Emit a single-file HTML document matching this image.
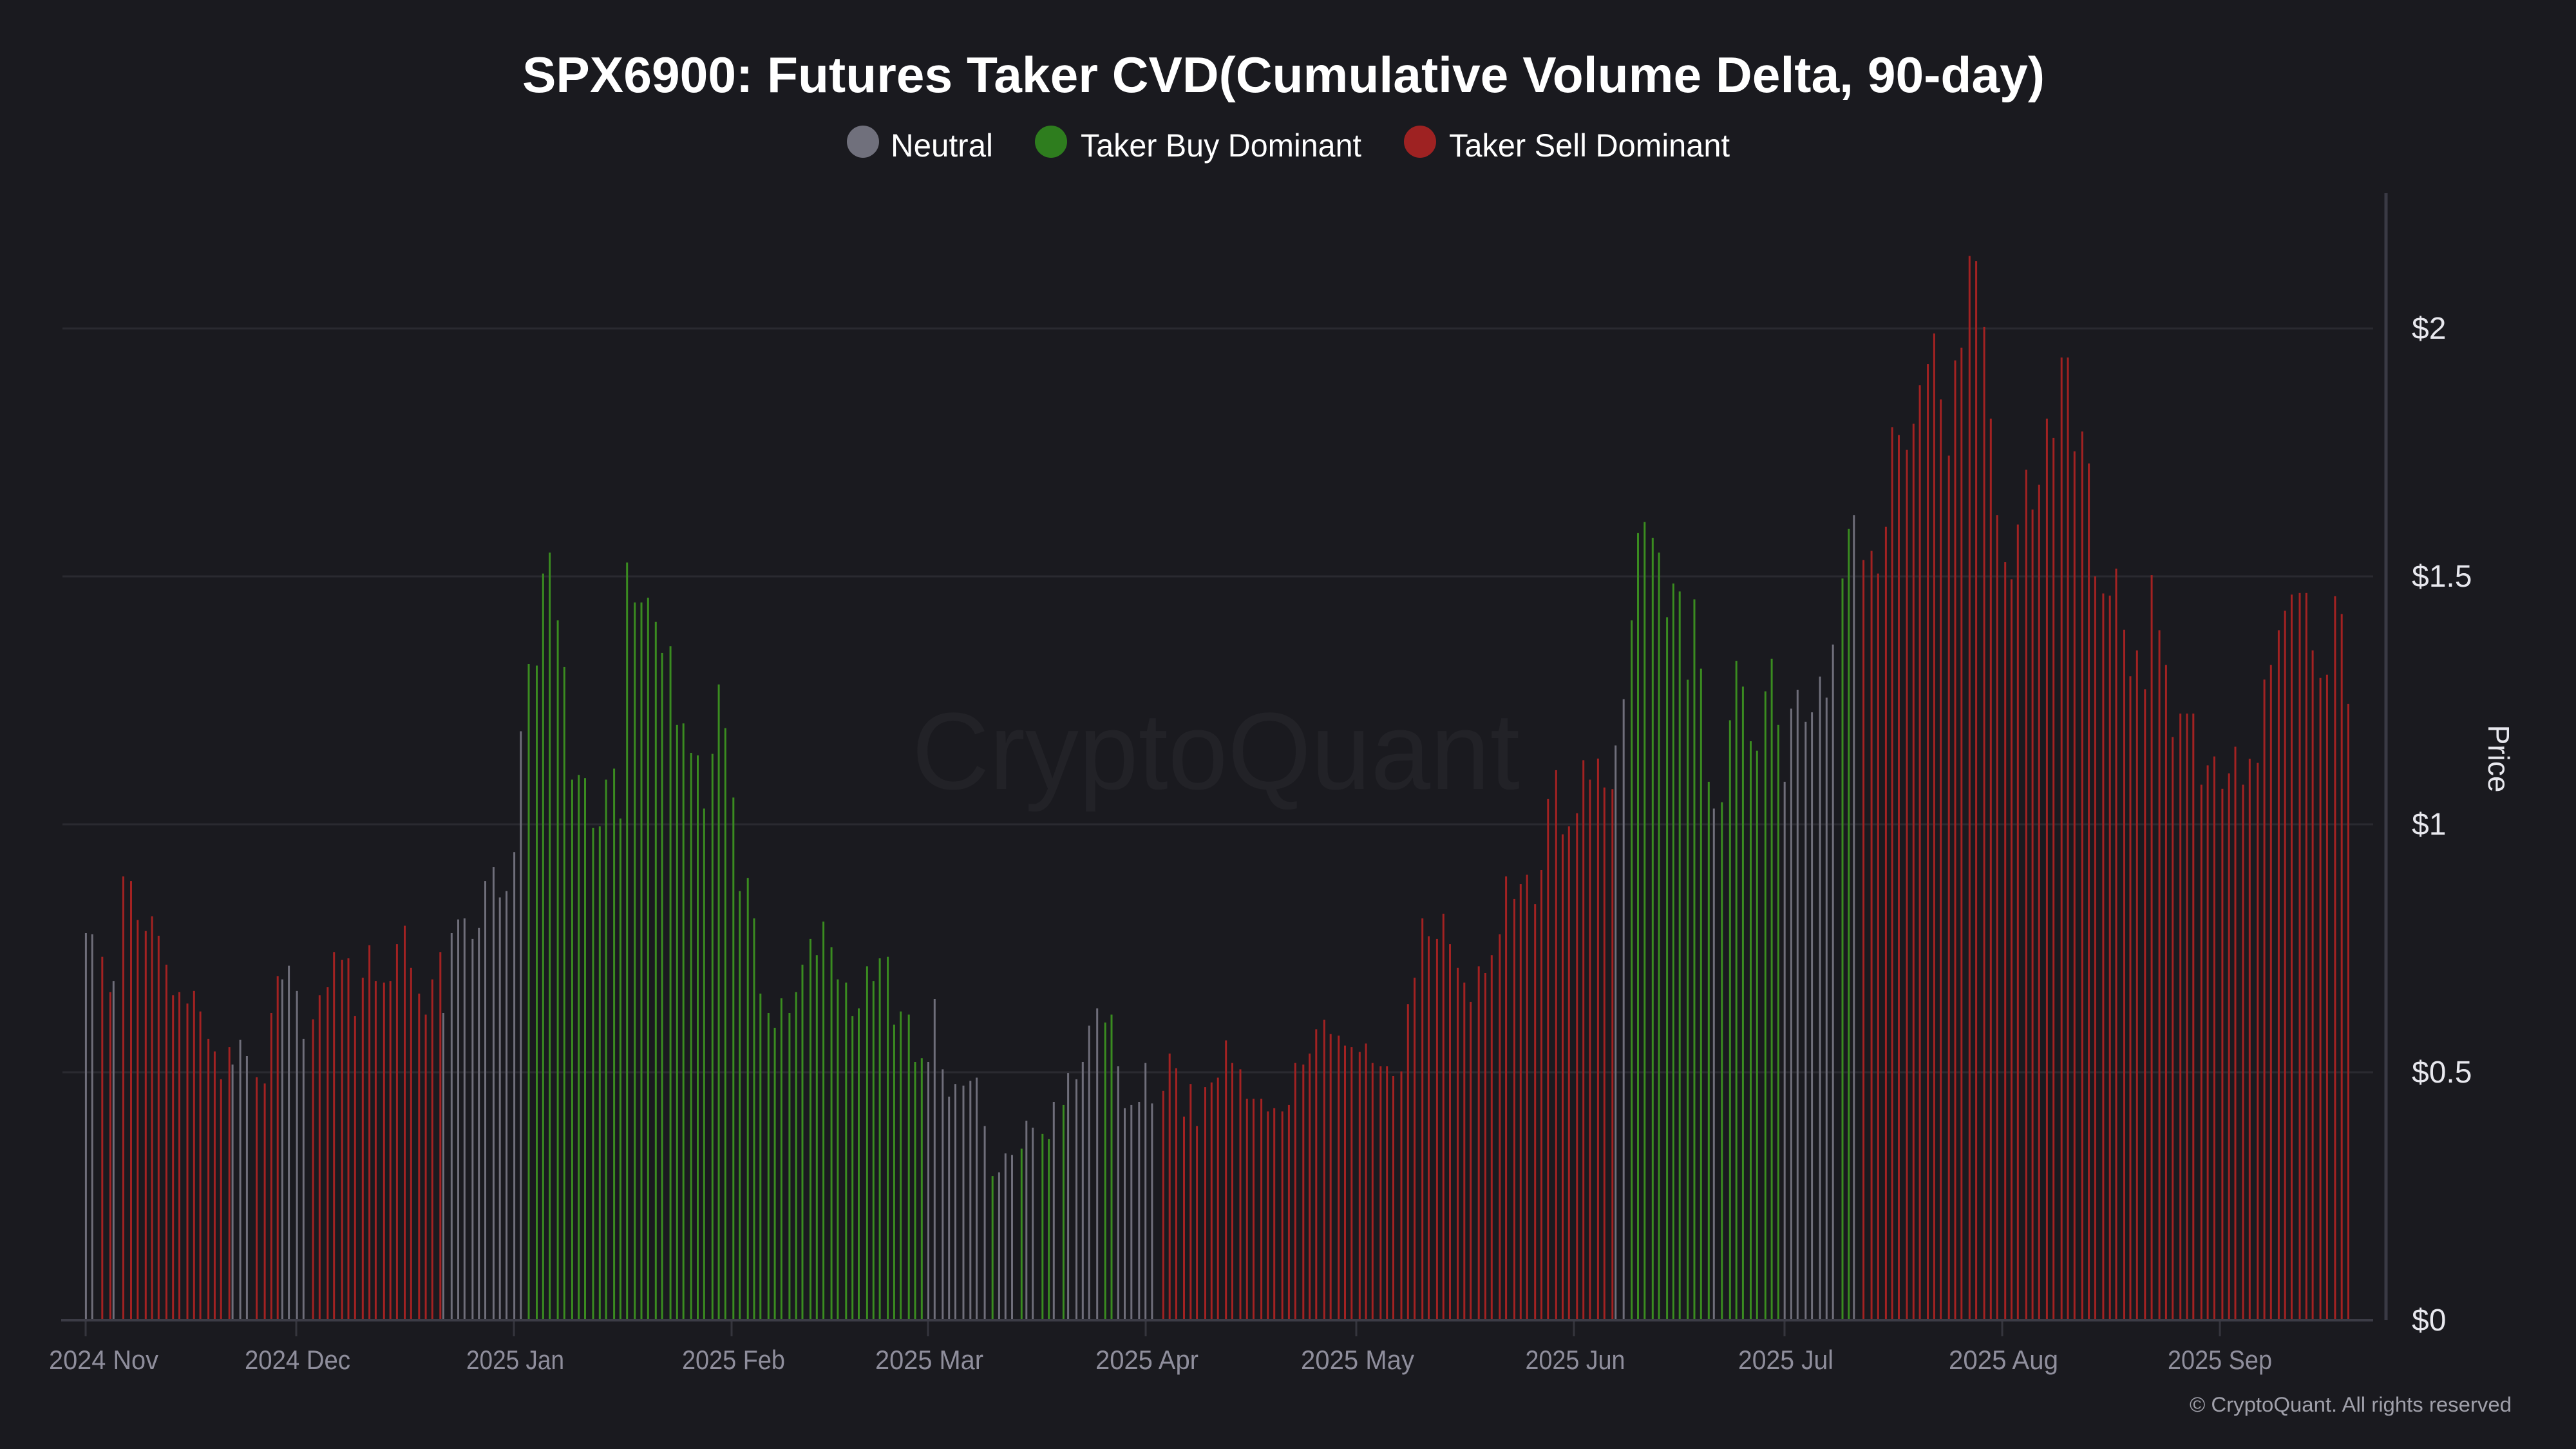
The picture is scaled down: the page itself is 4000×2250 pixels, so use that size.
<!DOCTYPE html>
<html><head><meta charset="utf-8"><style>
html,body{margin:0;padding:0;background:#1a1a1f;}
svg{display:block;}
</style></head><body>
<svg id="c" width="4000" height="2250" xmlns="http://www.w3.org/2000/svg" font-family="Liberation Sans, sans-serif">
<rect width="4000" height="2250" fill="#1a1a1f"/>
<text x="1888" y="1225" font-size="170" fill="#222227" text-anchor="middle" textLength="944" lengthAdjust="spacingAndGlyphs">CryptoQuant</text>
<g stroke="#2a2a30" stroke-width="3">
<line x1="97" y1="510" x2="3685" y2="510"/>
<line x1="97" y1="895" x2="3685" y2="895"/>
<line x1="97" y1="1280" x2="3685" y2="1280"/>
<line x1="97" y1="1665" x2="3685" y2="1665"/>
</g>
<g id="bars"></g>
<line x1="95" y1="2050" x2="3685" y2="2050" stroke="#3c3c46" stroke-width="4"/>
<line x1="3705" y1="300" x2="3705" y2="2050" stroke="#3a3a44" stroke-width="5"/>
<g stroke="#35353d" stroke-width="3">
<line x1="133" y1="2052" x2="133" y2="2075"/><line x1="460" y1="2052" x2="460" y2="2075"/>
<line x1="798" y1="2052" x2="798" y2="2075"/><line x1="1136" y1="2052" x2="1136" y2="2075"/>
<line x1="1441" y1="2052" x2="1441" y2="2075"/><line x1="1779" y1="2052" x2="1779" y2="2075"/>
<line x1="2106" y1="2052" x2="2106" y2="2075"/><line x1="2444" y1="2052" x2="2444" y2="2075"/>
<line x1="2771" y1="2052" x2="2771" y2="2075"/><line x1="3109" y1="2052" x2="3109" y2="2075"/>
<line x1="3447" y1="2052" x2="3447" y2="2075"/>
</g>
<g font-size="42" fill="#8f8e9c" text-anchor="middle">
<text x="161" y="2126" textLength="170" lengthAdjust="spacingAndGlyphs">2024 Nov</text>
<text x="462" y="2126" textLength="164" lengthAdjust="spacingAndGlyphs">2024 Dec</text>
<text x="800" y="2126" textLength="152" lengthAdjust="spacingAndGlyphs">2025 Jan</text>
<text x="1139" y="2126" textLength="160" lengthAdjust="spacingAndGlyphs">2025 Feb</text>
<text x="1443" y="2126" textLength="168" lengthAdjust="spacingAndGlyphs">2025 Mar</text>
<text x="1781" y="2126" textLength="160" lengthAdjust="spacingAndGlyphs">2025 Apr</text>
<text x="2108" y="2126" textLength="176" lengthAdjust="spacingAndGlyphs">2025 May</text>
<text x="2446" y="2126" textLength="155" lengthAdjust="spacingAndGlyphs">2025 Jun</text>
<text x="2773" y="2126" textLength="148" lengthAdjust="spacingAndGlyphs">2025 Jul</text>
<text x="3111" y="2126" textLength="170" lengthAdjust="spacingAndGlyphs">2025 Aug</text>
<text x="3447" y="2126" textLength="162" lengthAdjust="spacingAndGlyphs">2025 Sep</text>
</g>
<g font-size="48" fill="#e8e8ee">
<text x="3745" y="526">$2</text>
<text x="3745" y="911">$1.5</text>
<text x="3745" y="1296">$1</text>
<text x="3745" y="1681">$0.5</text>
<text x="3745" y="2066">$0</text>
</g>
<text transform="translate(3864,1178) rotate(90)" font-size="46" fill="#e8e8ee" text-anchor="middle">Price</text>
<text x="3900" y="2192" font-size="32" fill="#a0a0aa" text-anchor="end" textLength="500" lengthAdjust="spacingAndGlyphs">© CryptoQuant. All rights reserved</text>
<text x="1993" y="143" font-size="78" font-weight="bold" fill="#ffffff" text-anchor="middle" textLength="2364" lengthAdjust="spacingAndGlyphs">SPX6900: Futures Taker CVD(Cumulative Volume Delta, 90-day)</text>
<circle cx="1340" cy="220" r="25" fill="#70707c"/>
<circle cx="1632" cy="220" r="25" fill="#2e7d1e"/>
<circle cx="2205" cy="220" r="25" fill="#9e2222"/>
<g font-size="50" fill="#ffffff">
<text x="1383" y="243" textLength="159" lengthAdjust="spacingAndGlyphs">Neutral</text>
<text x="1678" y="243" textLength="436" lengthAdjust="spacingAndGlyphs">Taker Buy Dominant</text>
<text x="2250" y="243" textLength="436" lengthAdjust="spacingAndGlyphs">Taker Sell Dominant</text>
</g>
</svg>
<script>
var segs=[
{x0:120,y0:800,s:0.8163,d:"30:795:n,52:797:n,87:840:r,115:907:r,126:886:n,160:687:r,187:696:r,210:770:r,238:791:r,260:763:r,283:800:r,310:855:r,333:913:r,355:907:r,383:929:r,406:905:r,428:944:r,456:996:r,478:1020:r,500:1073:r,529:1012:r,540:1045:n,567:998:n,590:1029:n,624:1069:r,652:1081:r,675:947:r,697:877:r,713:883:n,736:857:n,764:905:n,787:996:n,820:959:r,843:913:r,871:898:r,893:831:r,921:846:r,943:843:r,966:953:r,993:880:r,1016:818:r,1038:886:r,1067:889:r,1089:886:r,1112:816:r,1139:781:r,1161:861:r,1189:910:r,1212:950:r,1235:883:r,1263:831:r,1273:947:n,1302:795:n,1325:769:n,1347:767:n,1375:806:n,1397:785:n,1419:696:n,1448:669:n,1470:727:n,1493:715:n,1520:641:n,1543:411:n"},
{x0:800,y0:800,s:0.8163,d:"47:283:b,75:286:b,97:111:b,120:71:b,148:200:b,171:289:b,198:503:b,221:494:b,243:500:b,271:595:b,294:592:b,316:503:b,344:482:b,366:577:b,389:90:b,416:166:b,439:166:b,462:157:b,489:203:b,511:262:b,540:249:b,563:399:b,585:396:b,612:452:b,635:457:b,657:558:b,686:454:b,708:322:b,731:405:b,759:537:b,781:715:b,809:690:b,831:767:b,853:910:b,881:947:b,903:975:b,926:919:b,954:947:b,977:907:b,999:855:b,1027:806:b,1049:837:b,1072:773:b,1100:822:b,1122:883:b,1151:889:b,1173:953:b,1195:938:b,1224:858:b,1246:886:b,1268:843:b,1296:840:b,1318:969:b,1341:944:b,1369:950:b,1391:1040:b,1414:1033:b,1437:1040:n,1459:920:n,1487:1054:n,1509:1106:n,1531:1082:n,1559:1085:n"},
{x0:1480,y0:800,s:0.8163,d:"60:1076:n,82:1070:n,110:1162:n,137:1257:b,160:1250:n,182:1214:n,205:1217:n,238:1205:b,255:1152:n,277:1165:n,311:1177:b,333:1187:b,350:1116:n,384:1122:b,400:1061:n,429:1073:n,451:1040:n,473:971:n,501:938:n,529:965:b,551:950:b,574:1048:n,597:1128:n,620:1122:n,647:1116:n,669:1042:n,692:1119:n,731:1095:r,753:1024:r,776:1052:r,803:1144:r,826:1082:r,848:1162:r,877:1088:r,899:1079:r,921:1070:r,949:999:r,971:1042:r,999:1054:r,1022:1110:r,1045:1110:r,1072:1110:r,1095:1134:r,1117:1128:r,1145:1134:r,1168:1122:r,1190:1042:r,1218:1045:r,1240:1024:r,1263:978:r,1291:960:r,1313:987:r,1341:990:r,1363:1009:r,1386:1012:r,1414:1021:r,1436:1005:r,1459:1042:r,1487:1048:r,1509:1048:r,1531:1067:r,1559:1058:r"},
{x0:2160,y0:800,s:0.8163,d:"59:930:r,82:880:r,109:767:r,131:801:r,160:806:r,182:758:r,205:816:r,232:861:r,255:889:r,277:926:r,305:858:r,328:871:r,350:837:r,378:797:r,400:687:r,429:730:r,451:702:r,473:684:r,501:740:r,523:675:r,546:540:r,574:485:r,597:607:r,619:592:r,647:567:r,669:466:r,692:503:r,720:463:r,742:518:r,770:521:r,781:438:n,809:350:n,837:200:b,859:34:b,882:13:b,910:43:b,932:71:b,960:194:b,982:130:b,1004:145:b,1032:313:b,1055:160:b,1078:292:b,1105:507:b,1123:558:n,1151:546:b,1179:390:b,1201:277:b,1224:326:b,1251:430:b,1273:448:b,1302:335:b,1324:273:b,1347:399:b,1369:507:n,1392:368:n,1414:332:n,1442:393:n,1464:375:n,1492:307:n,1515:347:n,1537:246:n"},
{x0:2840,y0:350,s:1.1033,d:"47:497:b,69:427:b,87:408:n,120:471:r,148:458:r,171:490:r,198:424:r,220:284:r,243:295:r,271:316:r,294:279:r,316:225:r,344:195:r,366:152:r,389:245:r,417:324:r,439:190:r,461:172:r,489:43:r,512:50:r,540:143:r,563:272:r,585:408:r,613:474:r,635:498:r,657:421:r,686:344:r,708:400:r,731:365:r,758:272:r,781:299:r,809:186:r,831:186:r,854:318:r,881:290:r,904:335:r,926:494:r,954:518:r,977:521:r,999:483:r,1027:569:r"},
{x0:3300,y0:280,s:1.2564,d:"18:613:r,41:581:r,69:629:r,92:488:r,119:556:r,142:599:r,165:688:r,192:659:r,215:659:r,237:659:r,265:747:r,287:723:r,310:712:r,338:752:r,361:733:r,383:700:r,410:747:r,433:715:r,461:720:r,484:617:r,507:599:r,534:556:r,556:532:r,579:512:r,607:510:r,630:510:r,652:581:r,679:615:r,702:611:r,730:514:r,753:536:r,776:647:r"}
];
var col={n:"#6f6e7a",r:"#a32222",b:"#3a8c20"};
var g=document.getElementById("bars"),out="";
segs.forEach(function(s){s.d.split(",").forEach(function(p){var a=p.split(":");
var x=s.x0+(+a[0])/2.24, y=s.y0+(+a[1])*s.s;
out+='<rect x="'+(x-1.5).toFixed(1)+'" y="'+y.toFixed(1)+'" width="3" height="'+(2049-y).toFixed(1)+'" fill="'+col[a[2]]+'"/>';});});
g.innerHTML=out;
</script>
</body></html>
